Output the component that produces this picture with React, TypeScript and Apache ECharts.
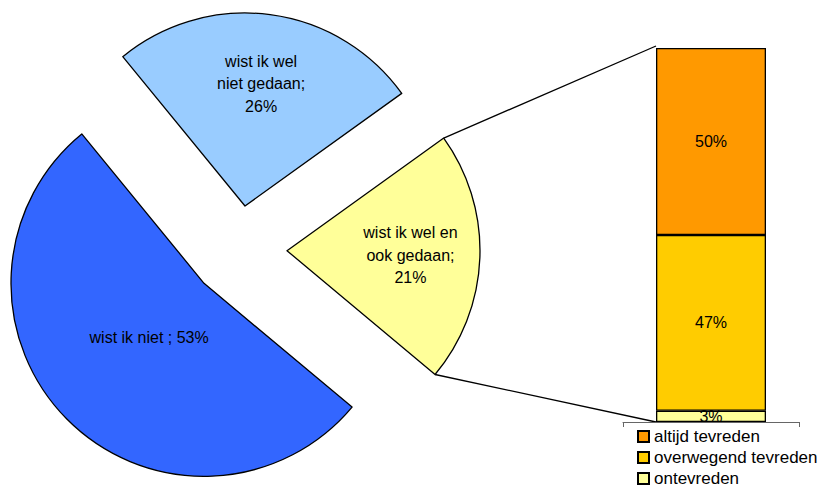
import React, { useEffect, useRef } from 'react';
import * as echarts from 'echarts';

// ---- data ----
const pieNames = ['wist ik wel\nniet gedaan', 'wist ik wel en\nook gedaan', 'wist ik niet '];
const pieValues = [26, 21, 53];
const barNames = ['altijd tevreden', 'overwegend tevreden', 'ontevreden'];
const barValues = [50, 47, 3];
const barCategories = [''];

// ---- styles / layout ----
const pieColors = ['#99CCFF', '#FFFF99', '#3366FF'];
const barColors = ['#FF9900', '#FFCC00', '#FFFF99'];
const FONT = '"Liberation Sans", Arial, Helvetica, sans-serif';
const START_ANGLE = 129.3;
const PIE_RADIUS = 193;
const sliceApex: [number, number][] = [[245, 206], [287, 250.7], [204, 283.3]];
const labelRadiusFrac = [0.64, 0.64, 0.4];
const labelSep = ['\n', '\n', ' '];
const SECOND_SLICE = 1; // slice broken out into the bar
const BAR_WIDTH = 110;

export default function App() {
  const ref = useRef<HTMLDivElement>(null);

  useEffect(() => {
    if (!ref.current) return;
    const chart = echarts.init(ref.current, undefined, { renderer: 'svg' });

    const total = pieValues.reduce((a, b) => a + b, 0);
    let acc = START_ANGLE;
    const sliceAngles = pieValues.map((v) => {
      const s = acc;
      const e = acc - (v / total) * 360;
      acc = e;
      return [s, e];
    });

    const pieSeries = pieValues.map((_, i) => ({
      type: 'pie',
      center: sliceApex[i],
      radius: PIE_RADIUS,
      startAngle: START_ANGLE,
      clockwise: true,
      silent: true,
      avoidLabelOverlap: false,
      emphasis: { disabled: true },
      label: {
        position: 'inside',
        fontSize: 16,
        lineHeight: 22.5,
        color: '#000',
        fontFamily: FONT,
        formatter: (p: any) => `${p.name};${labelSep[p.dataIndex]}${p.value}%`,
      },
      labelLine: { show: false },
      labelLayout: (params: any) => {
        const j = params.dataIndex;
        const [s, e] = sliceAngles[j];
        const mid = (((s + e) / 2) * Math.PI) / 180;
        const r = PIE_RADIUS * labelRadiusFrac[j];
        return {
          x: sliceApex[j][0] + r * Math.cos(mid),
          y: sliceApex[j][1] - r * Math.sin(mid),
        };
      },
      data: pieValues.map((v, j) => ({
        value: v,
        name: pieNames[j],
        itemStyle:
          j === i
            ? { color: pieColors[j], borderColor: '#000', borderWidth: 1.3 }
            : { color: 'rgba(0,0,0,0)', borderWidth: 0 },
        label: { show: j === i },
      })),
    }));

    const barOrder = [2, 1, 0];
    const barSeries = barOrder.map((k) => ({
      type: 'bar',
      name: barNames[k],
      stack: 'total',
      barWidth: BAR_WIDTH,
      silent: true,
      emphasis: { disabled: true },
      itemStyle: { color: barColors[k], borderColor: '#000', borderWidth: 1.3 },
      label: {
        show: true,
        position: 'inside',
        formatter: '{c}%',
        fontSize: 16,
        color: '#000',
        fontFamily: FONT,
      },
      data: [barValues[k]],
    }));

    chart.setOption({
      animation: false,
      backgroundColor: '#fff',
      grid: { left: 623, width: 176, top: 48, height: 374 },
      xAxis: {
        type: 'category',
        data: barCategories,
        axisLine: { lineStyle: { color: '#666', width: 1 } },
        axisTick: { show: true, length: 5, lineStyle: { color: '#666' } },
        axisLabel: { show: false },
        splitLine: { show: false },
      },
      yAxis: { type: 'value', min: 0, max: 100, show: false },
      legend: {
        data: barNames,
        orient: 'vertical',
        left: 637,
        top: 428,
        height: 100,
        padding: 0,
        itemWidth: 11,
        itemHeight: 11,
        itemGap: 4,
        icon: 'rect',
        selectedMode: false,
        textStyle: { fontSize: 17, color: '#000', fontFamily: FONT },
      },
      series: [...pieSeries, ...barSeries],
    });

    // connector lines from the broken-out slice to the bar
    const topPt = chart.convertToPixel({ gridIndex: 0 }, [0, 100]) as number[];
    const botPt = chart.convertToPixel({ gridIndex: 0 }, [0, 0]) as number[];
    const barLeft = topPt[0] - BAR_WIDTH / 2;
    const [s, e] = sliceAngles[SECOND_SLICE];
    const [cx, cy] = sliceApex[SECOND_SLICE];
    const p1 = [cx + PIE_RADIUS * Math.cos((s * Math.PI) / 180), cy - PIE_RADIUS * Math.sin((s * Math.PI) / 180)];
    const p2 = [cx + PIE_RADIUS * Math.cos((e * Math.PI) / 180), cy - PIE_RADIUS * Math.sin((e * Math.PI) / 180)];
    chart.setOption({
      graphic: [
        { type: 'line', silent: true, shape: { x1: p1[0], y1: p1[1], x2: barLeft, y2: topPt[1] - 2 }, style: { stroke: '#000', lineWidth: 1.3 } },
        { type: 'line', silent: true, shape: { x1: p2[0], y1: p2[1], x2: barLeft, y2: botPt[1] }, style: { stroke: '#000', lineWidth: 1.3 } },
      ],
    });

    return () => chart.dispose();
  }, []);

  return (
    <div
      ref={ref}
      style={{ position: 'fixed', left: 0, top: 0, width: 831, height: 488 }}
    />
  );
}
